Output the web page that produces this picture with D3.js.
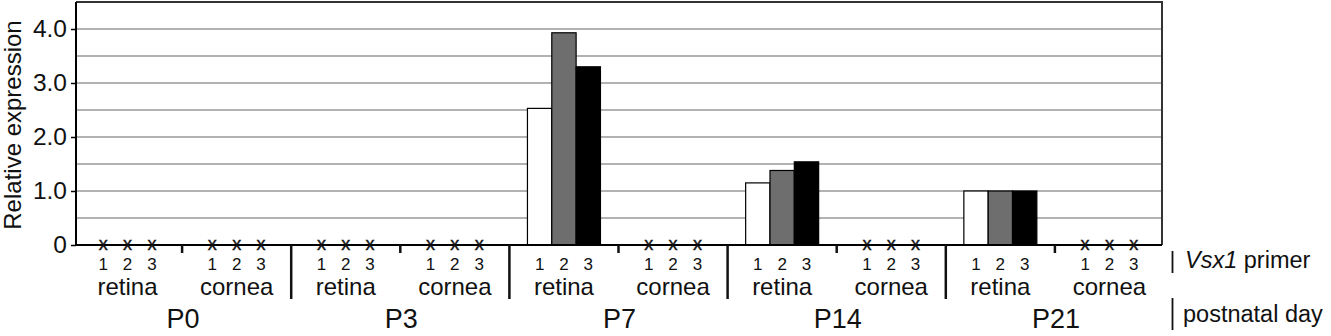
<!DOCTYPE html>
<html>
<head>
<meta charset="utf-8">
<script src="https://cdn.jsdelivr.net/npm/d3@7"></script>
<style>
  html, body { margin: 0; padding: 0; background: #fff; }
  svg { display: block; font-family: "Liberation Sans", Arial, Helvetica, sans-serif; }
</style>
</head>
<body>
<svg id="chart" width="1331" height="336"></svg>
<script>
// ---- data ----
const days = ["P0", "P3", "P7", "P14", "P21"];
const tissues = ["retina", "cornea"];
const primers = ["1", "2", "3"];
// values per group (day x tissue, in order P0 retina, P0 cornea, P3 retina, ...); null = not detected (x)
const primer1 = [null, null, null, null, 2.53, null, 1.15, null, 1.00, null];
const primer2 = [null, null, null, null, 3.93, null, 1.38, null, 1.00, null];
const primer3 = [null, null, null, null, 3.30, null, 1.54, null, 1.00, null];
const yTickValues = [0, 1, 2, 3, 4];
const yTickLabels = ["0", "1.0", "2.0", "3.0", "4.0"];
const gridValues = [0.5, 1, 1.5, 2, 2.5, 3, 3.5, 4];
const yTitle = "Relative expression";
const primerFills = ["#ffffff", "#6e6e6e", "#000000"];

// ---- layout ----
const svg = d3.select("#chart");
const plotLeft = 76, plotRight = 1162, baseY = 245;

const groups = [];
days.forEach(d => tissues.forEach(t => groups.push({ day: d, tissue: t })));
groups.forEach((g, i) => {
  g.values = [primer1[i], primer2[i], primer3[i]];
  g.key = g.day + "-" + g.tissue;
});

const x = d3.scaleBand().domain(groups.map(g => g.key)).range([73, 1164]);
const xInner = d3.scaleBand().domain(primers).range([-36.5, 36.5]);
const y = d3.scaleLinear().domain([0, 4.5]).range([baseY, 2]);

// gridlines
svg.append("g").selectAll("line").data(gridValues).join("line")
  .attr("x1", plotLeft).attr("x2", plotRight)
  .attr("y1", d => y(d)).attr("y2", d => y(d))
  .attr("stroke", "#999").attr("stroke-width", 1.6);

// top & right border
svg.append("path")
  .attr("d", `M${plotLeft},${y(4.5)}H${plotRight}V${baseY}`)
  .attr("fill", "none").attr("stroke", "#333").attr("stroke-width", 2);

// bars
const gBars = svg.append("g");
groups.forEach(g => {
  const cx = x(g.key) + x.bandwidth() / 2;
  primers.forEach((p, j) => {
    const v = g.values[j];
    if (v != null) {
      gBars.append("rect")
        .attr("x", cx + xInner(p)).attr("width", xInner.bandwidth())
        .attr("y", y(v)).attr("height", y(0) - y(v))
        .attr("fill", primerFills[j]).attr("stroke", "#000").attr("stroke-width", 1.2);
    }
  });
});

// y axis
const yAxis = d3.axisLeft(y).tickValues(yTickValues)
  .tickFormat((d, i) => yTickLabels[i]).tickSize(5).tickPadding(4);
const gy = svg.append("g").attr("transform", `translate(${plotLeft},0)`).call(yAxis);
gy.select(".domain").attr("d", `M0,${y(4.5)}V${baseY}`).attr("stroke", "#000").attr("stroke-width", 2);
gy.selectAll(".tick line").attr("stroke", "#000").attr("stroke-width", 1.5);
gy.selectAll(".tick text").attr("font-size", 24.5).attr("fill", "#111")
  .attr("font-family", "Liberation Sans, Arial, sans-serif");

// baseline
svg.append("line").attr("x1", plotLeft - 1).attr("x2", plotRight)
  .attr("y1", baseY).attr("y2", baseY).attr("stroke", "#000").attr("stroke-width", 2);

// y title
svg.append("text")
  .attr("transform", `translate(20.5,125) rotate(-90)`)
  .attr("text-anchor", "middle").attr("font-size", 24).attr("fill", "#111")
  .text(yTitle);

// x marks (not detected), primer numbers, tissue labels
const gx = svg.append("g");
groups.forEach(g => {
  const cx = x(g.key) + x.bandwidth() / 2;
  primers.forEach((p, j) => {
    const px = cx + xInner(p) + xInner.bandwidth() / 2;
    if (g.values[j] == null) {
      gx.append("text").attr("x", px).attr("y", 249.5)
        .attr("text-anchor", "middle").attr("font-size", 18).attr("fill", "#111")
        .attr("stroke", "#111").attr("stroke-width", 0.4).text("x");
    }
    gx.append("text").attr("x", px).attr("y", 269.5)
      .attr("text-anchor", "middle").attr("font-size", 17).attr("fill", "#111").text(p);
  });
  gx.append("text").attr("x", cx).attr("y", 295)
    .attr("text-anchor", "middle").attr("font-size", 24).attr("fill", "#111").text(g.tissue);
});

// separators
groups.forEach((g, i) => {
  if (i === 0) return;
  const sx = x(g.key);
  const long = i % 2 === 0;
  gx.append("line").attr("x1", sx).attr("x2", sx)
    .attr("y1", baseY).attr("y2", long ? 299 : 253)
    .attr("stroke", "#111").attr("stroke-width", 2.5);
});

// day labels
days.forEach(d => {
  const cx = x(d + "-cornea");
  gx.append("text").attr("x", cx + 1).attr("y", 327.5)
    .attr("text-anchor", "middle").attr("font-size", 27).attr("fill", "#111").text(d);
});

// right-side legend labels
const gr = svg.append("g");
gr.append("line").attr("x1", 1172.5).attr("x2", 1172.5).attr("y1", 251).attr("y2", 273)
  .attr("stroke", "#111").attr("stroke-width", 1.8);
const t1 = gr.append("text").attr("x", 1185).attr("y", 268).attr("font-size", 23.5).attr("fill", "#111");
t1.append("tspan").attr("font-style", "italic").text("Vsx1");
t1.append("tspan").text(" primer");
gr.append("line").attr("x1", 1172.5).attr("x2", 1172.5).attr("y1", 298).attr("y2", 330)
  .attr("stroke", "#111").attr("stroke-width", 1.8);
gr.append("text").attr("x", 1183).attr("y", 322).attr("font-size", 23.5).attr("fill", "#111")
  .text("postnatal day");
</script>
</body>
</html>
